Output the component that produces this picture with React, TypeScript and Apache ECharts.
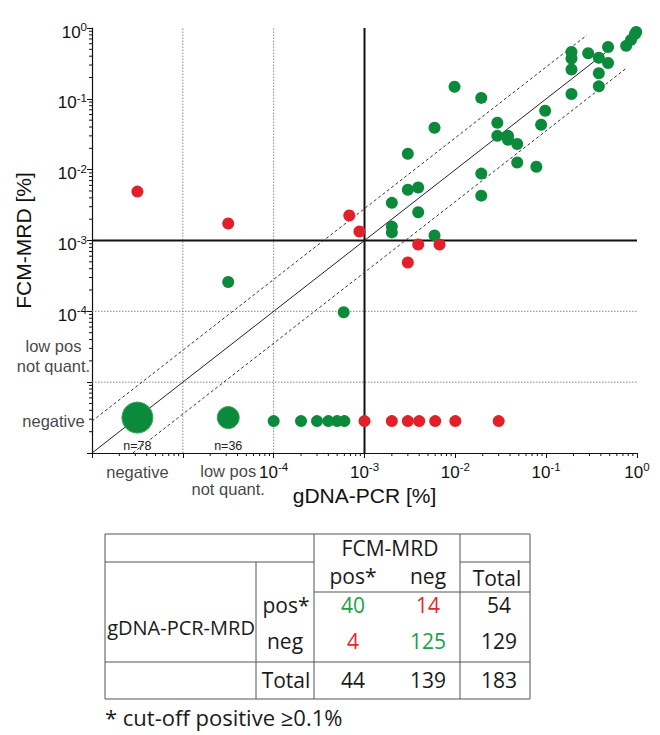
import React, { useEffect, useRef } from "react";
import * as echarts from "echarts";

// ---- positions of the non-numeric classes on the log scales ----
const NEG = 3.16e-6; // "negative" (middle of first decade)
const LOW_POS = 3.16e-5; // "low pos not quant." (middle of second decade)
const NEG_ROW = 2.82e-6; // row of single FCM-negative samples

// ---- data (values in %) ----
// concordant / FCM-positive samples (green)
const greenPoints: [number, number][] = [
  [LOW_POS, 2.6e-4],
  [5.9e-4, 9.7e-5],
  [2.0e-3, 3.4e-3],
  [2.0e-3, 1.57e-3],
  [2.0e-3, 1.3e-3],
  [3.0e-3, 0.0168],
  [3.0e-3, 5.2e-3],
  [3.9e-3, 5.6e-3],
  [3.9e-3, 2.5e-3],
  [5.9e-3, 0.039],
  [5.9e-3, 1.18e-3],
  [9.8e-3, 0.148],
  [0.0193, 0.103],
  [0.0193, 8.8e-3],
  [0.0193, 4.3e-3],
  [0.029, 0.046],
  [0.029, 0.03],
  [0.038, 0.03],
  [0.038, 0.0265],
  [0.048, 0.023],
  [0.048, 0.0126],
  [0.078, 0.011],
  [0.088, 0.043],
  [0.0975, 0.068],
  [0.19, 0.46],
  [0.19, 0.37],
  [0.19, 0.26],
  [0.19, 0.117],
  [0.29, 0.44],
  [0.38, 0.38],
  [0.38, 0.23],
  [0.38, 0.15],
  [0.48, 0.54],
  [0.48, 0.32],
  [0.76, 0.56],
  [0.86, 0.68],
  [0.95, 0.82],
  [0.98, 0.88],
];

// discordant samples (red)
const redPoints: [number, number][] = [
  [NEG, 4.9e-3],
  [LOW_POS, 1.74e-3],
  [6.8e-4, 2.25e-3],
  [8.8e-4, 1.34e-3],
  [3.0e-3, 4.9e-4],
  [3.9e-3, 8.8e-4],
  [6.7e-3, 8.8e-4],
];

// FCM-negative samples with quantified PCR
const fcmNegGreenX = [1e-4, 2e-4, 3e-4, 4e-4, 5e-4, 6e-4];
const fcmNegRedX = [1e-3, 2e-3, 3e-3, 4e-3, 6e-3, 1e-2, 3e-2];

// pooled groups (big circles)
const pooledX = [NEG, LOW_POS];
const pooledN = [78, 36];
const pooledSize = [31, 22];

// reference lines
const AX_MIN = 1e-6;
const AX_MAX = 1;
const CUTOFF = 1e-3;
const DOTTED_AT = [1e-5, 1e-4];
const BAND = 2.82; // dashed band factor (10^0.45)
const DIAG_END = 0.45;
const UPPER_END = 0.28;
const LOWER_END = 0.76;

// axis label texts
const specialLabels = ["negative", "low pos\nnot quant."];
const xAxisTitle = "gDNA-PCR [%]";
const yAxisTitle = "FCM-MRD [%]";

// table
const tableTitle = "FCM-MRD";
const tableColHeaders = ["pos*", "neg", "Total"];
const tableRowGroup = "gDNA-PCR-MRD";
const tableRowHeaders = ["pos*", "neg"];
const tableCounts = [
  [40, 14, 54],
  [4, 125, 129],
];
const tableTotalLabel = "Total";
const tableTotals = [44, 139, 183];
const footnote = "* cut-off positive \u22650.1%";

const GREEN = "#0b8a3c";
const RED = "#e3202a";
const TXT_GREEN = "#21a048";
const TXT_RED = "#e5262b";
const AX_FONT = '"Liberation Sans", Arial, sans-serif';
const TB_FONT = '"Open Sans", sans-serif';

function minorTicks(): number[] {
  const out: number[] = [];
  for (let e = -6; e < 0; e++) {
    for (let m = 2; m <= 9; m++) out.push(m * Math.pow(10, e));
  }
  return out;
}

const supFormatter = (v: number) => {
  const e = Math.round(Math.log10(v));
  if (e < -4) return "";
  return `{b|10}{s|${e}}`;
};

const richLabel = {
  b: { fontSize: 17, lineHeight: 22, fontFamily: AX_FONT, color: "#111" },
  s: { fontSize: 11.5, lineHeight: 8, verticalAlign: "top", fontFamily: AX_FONT, color: "#111" },
};

export default function App() {
  const ref = useRef<HTMLDivElement>(null);

  useEffect(() => {
    document.body.style.margin = "0";
    if (!ref.current) return;
    const chart = echarts.init(ref.current, undefined, { renderer: "svg" });
    const minors = minorTicks();

    const labelStyle = {
      show: true,
      fontFamily: AX_FONT,
      fontSize: 16.5,
      lineHeight: 18,
      color: "#111",
    };

    // table geometry
    const L = 105, R = 530, T = 534, B = 699;
    const c1 = 256, c2 = 314, c3 = 460;
    const r1 = 562, r2 = 592, r3 = 662;
    const colX = [353, 428, 499];
    const rowY = [605, 641];
    const lineStyle = { stroke: "#555", lineWidth: 1 };
    const ln = (x1: number, y1: number, x2: number, y2: number) => ({
      type: "line",
      shape: { x1, y1, x2, y2 },
      style: lineStyle,
      silent: true,
    });
    const tx = (text: string, x: number, y: number, fill = "#1a1a1a", size = 21, align = "center") => ({
      type: "text",
      x,
      y,
      style: {
        text,
        fill,
        font: `${size}px ${TB_FONT}`,
        textAlign: align,
        textVerticalAlign: "middle",
      },
      silent: true,
    });
    const countColor = [
      [TXT_GREEN, TXT_RED, "#1a1a1a"],
      [TXT_RED, TXT_GREEN, "#1a1a1a"],
    ];
    const tableEls: any[] = [
      ln(L, T, R, T),
      ln(L, B, R, B),
      ln(L, T, L, B),
      ln(R, T, R, B),
      ln(L, r1, c2, r1),
      ln(c3, r1, R, r1),
      ln(c2, r2, R, r2),
      ln(L, r3, R, r3),
      ln(c1, r1, c1, B),
      ln(c2, T, c2, B),
      ln(c3, T, c3, B),
      tx(tableTitle, 390, 548),
      tx(tableColHeaders[0], colX[0], 576),
      tx(tableColHeaders[1], colX[1], 576),
      tx(tableColHeaders[2], 497, 578),
      tx(tableRowGroup, 181, 627, "#1a1a1a", 20),
      tx(tableRowHeaders[0], 286, rowY[0]),
      tx(tableRowHeaders[1], 285, rowY[1]),
      tx(tableTotalLabel, 286, 680),
      tx(footnote, 105, 717, "#1a1a1a", 22, "left"),
    ];
    tableCounts.forEach((row, i) =>
      row.forEach((v, j) => tableEls.push(tx(String(v), colX[j], rowY[i], countColor[i][j])))
    );
    tableTotals.forEach((v, j) => tableEls.push(tx(String(v), colX[j], 680)));

    const refLine = (data: number[][], style: any, z = 2) => ({
      type: "line",
      data,
      symbol: "none",
      silent: true,
      z,
      lineStyle: style,
    });
    const dotted = { color: "#8a8a8a", width: 1, type: [1.5, 1.5] };
    const thick = { color: "#111", width: 2, type: "solid" };
    const dashed = { color: "#333", width: 1, type: [3, 2.5] };

    chart.setOption({
      animation: false,
      grid: { left: 92, right: 23, top: 28, bottom: 282 },
      xAxis: {
        type: "log",
        logBase: 10,
        min: AX_MIN,
        max: AX_MAX,
        name: xAxisTitle,
        nameLocation: "middle",
        nameGap: 31,
        nameTextStyle: { fontFamily: AX_FONT, fontSize: 21, color: "#111" },
        axisLine: { lineStyle: { color: "#111", width: 1.2 } },
        axisTick: { length: 5, lineStyle: { color: "#111" } },
        axisLabel: { formatter: supFormatter, rich: richLabel, margin: 8 },
        splitLine: { show: false },
      },
      yAxis: {
        type: "log",
        logBase: 10,
        min: AX_MIN,
        max: AX_MAX,
        name: yAxisTitle,
        nameLocation: "middle",
        nameGap: 58,
        nameTextStyle: { fontFamily: AX_FONT, fontSize: 21, color: "#111" },
        axisLine: { lineStyle: { color: "#111", width: 1.2 } },
        axisTick: { length: 5, lineStyle: { color: "#111" } },
        axisLabel: {
          formatter: supFormatter,
          rich: richLabel,
          margin: 5,
          padding: [8, 0, 0, 0],
        },
        splitLine: { show: false },
      },
      series: [
        ...DOTTED_AT.map((v) => refLine([[v, AX_MIN], [v, AX_MAX]], dotted, 1)),
        ...DOTTED_AT.map((v) => refLine([[AX_MIN, v], [AX_MAX, v]], dotted, 1)),
        refLine([[CUTOFF, AX_MIN], [CUTOFF, AX_MAX]], thick, 2),
        refLine([[AX_MIN, CUTOFF], [AX_MAX, CUTOFF]], thick, 2),
        refLine([[AX_MIN, AX_MIN], [DIAG_END, DIAG_END]], { color: "#222", width: 1 }),
        refLine([[AX_MIN, AX_MIN * BAND], [UPPER_END, UPPER_END * BAND]], dashed),
        refLine([[AX_MIN * BAND, AX_MIN], [LOWER_END, LOWER_END / BAND]], dashed),
        {
          type: "custom",
          silent: true,
          data: minors.map((v) => [v, AX_MIN]),
          renderItem: (params: any, api: any) => {
            const p = api.coord([api.value(0), api.value(1)]);
            return {
              type: "line",
              shape: { x1: p[0], y1: p[1], x2: p[0], y2: p[1] + 3 },
              style: { stroke: "#111", lineWidth: 1 },
            };
          },
        },
        {
          type: "custom",
          silent: true,
          data: minors.map((v) => [AX_MIN, v]),
          renderItem: (params: any, api: any) => {
            const p = api.coord([api.value(0), api.value(1)]);
            return {
              type: "line",
              shape: { x1: p[0] - 3, y1: p[1], x2: p[0], y2: p[1] },
              style: { stroke: "#111", lineWidth: 1 },
            };
          },
        },
        {
          type: "scatter",
          z: 5,
          symbolSize: 12,
          itemStyle: { color: GREEN, opacity: 1 },
          data: [...greenPoints, ...fcmNegGreenX.map((x) => [x, NEG_ROW])],
        },
        {
          type: "scatter",
          z: 6,
          symbolSize: 12,
          itemStyle: { color: RED, opacity: 1 },
          data: [...redPoints, ...fcmNegRedX.map((x) => [x, NEG_ROW])],
        },
        {
          type: "scatter",
          z: 5,
          itemStyle: { color: GREEN, borderColor: "#3aa356", borderWidth: 1, opacity: 1 },
          data: pooledX.map((x, i) => ({
            value: [x, NEG],
            symbolSize: pooledSize[i],
            label: {
              show: true,
              position: "bottom",
              distance: i === 0 ? 6 : 10,
              formatter: `n=${pooledN[i]}`,
              fontFamily: AX_FONT,
              fontSize: 12.5,
              color: "#222",
            },
          })),
        },
        {
          type: "scatter",
          silent: true,
          clip: false,
          z: 4,
          symbolSize: 1,
          itemStyle: { color: "rgba(0,0,0,0)" },
          data: [
            {
              value: [NEG, AX_MIN],
              label: { ...labelStyle, formatter: specialLabels[0], position: "bottom", distance: 9 },
            },
            {
              value: [LOW_POS, AX_MIN],
              label: { ...labelStyle, formatter: specialLabels[1], position: "bottom", distance: 8 },
            },
            {
              value: [AX_MIN, LOW_POS],
              label: {
                ...labelStyle,
                formatter: specialLabels[1],
                position: "left",
                distance: 38,
                align: "center",
                offset: [0, 9],
                lineHeight: 20,
              },
            },
            {
              value: [AX_MIN, NEG_ROW],
              label: {
                ...labelStyle,
                formatter: specialLabels[0],
                position: "left",
                distance: 38,
                align: "center",
              },
            },
          ],
        },
      ],
      graphic: { elements: tableEls },
    });

    return () => chart.dispose();
  }, []);

  return <div ref={ref} style={{ width: 660, height: 735 }} />;
}
